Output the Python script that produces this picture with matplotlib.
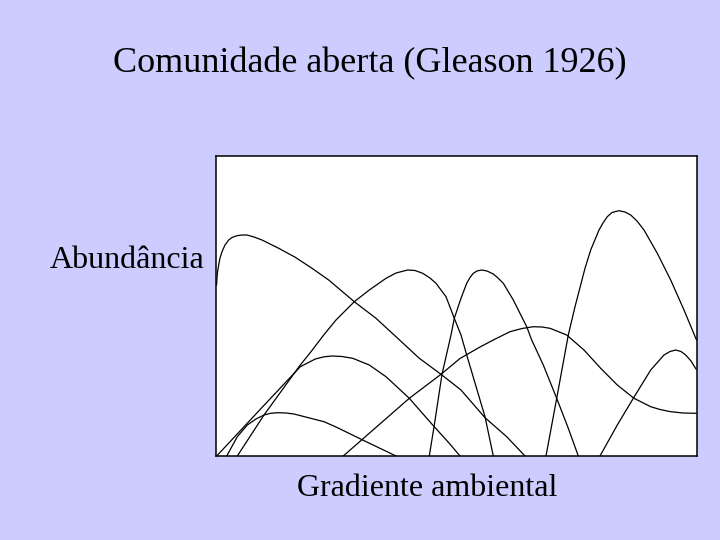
import matplotlib
matplotlib.use("Agg")
import matplotlib.pyplot as plt

# Species abundance curves along an environmental gradient (arbitrary units)
sp_a_x = [0.5, 1.5, 2.7, 4, 6, 9, 12.7, 16, 21, 26, 31, 38, 46, 62.7, 79.3, 96, 112.7, 138.3, 160, 181.7, 203.3, 225, 245, 269, 290.7, 309]
sp_a_y = [171, 184, 191, 198, 204.3, 211, 216, 218.5, 220.3, 221, 221, 219, 216, 207.7, 198.7, 187.7, 176, 154.3, 137.7, 117.7, 97.7, 81.7, 66, 38.3, 19.3, 0]

sp_b_x = [21.3, 48, 83, 96.3, 107.7, 120, 138.3, 153.3, 170, 180, 191.7, 199, 206.7, 214, 220, 230, 238.3, 245, 250.7, 269, 277.3]
sp_b_y = [0, 41, 89.3, 106, 121, 136, 154.3, 166, 177.7, 183, 186, 185.5, 182.7, 178, 172.7, 159.3, 137.7, 121, 101, 39.3, 0]

sp_c_x = [0.7, 42.7, 84.3, 99.3, 108, 116, 126, 136.7, 153.3, 170, 193.3, 216.7, 233.3, 244]
sp_c_y = [0, 45, 89.3, 97, 99.2, 100, 99.5, 97.7, 91, 79.3, 57.7, 31, 12.7, 0]

sp_e_x = [10.7, 21.3, 31.3, 40, 48, 54, 61.3, 70, 78, 94.7, 108, 120, 146.7, 180]
sp_e_y = [0, 19.3, 31, 37, 41, 42.6, 43.3, 43, 42, 37.7, 34.3, 29, 16, 0]

sp_f_x = [127.3, 146.7, 193.3, 225, 244, 264, 277.3, 294, 306, 317.3, 326, 334, 350.7, 368, 384.7, 401.3, 418, 434.7, 444, 454.7, 467, 480]
sp_f_y = [0, 17, 57.7, 81.7, 97.5, 109, 116, 124.3, 127.5, 129.3, 129, 127.7, 121, 106, 87.7, 71, 57.7, 49.3, 46.5, 44.3, 43, 42.7]

sp_g_x = [213.3, 218.3, 226, 235, 238.3, 245, 250.7, 254, 257.3, 261, 265.7, 271, 277.3, 282, 287.3, 297.3, 310.7, 315.7, 327.3, 340.7, 352.3, 362.3]
sp_g_y = [0, 31, 81.7, 121, 137.7, 157.7, 172.7, 178.5, 182.7, 185, 186, 185, 182, 178, 172.7, 156, 129.3, 116, 91, 57.7, 27.7, 0]

sp_h_x = [330, 340.7, 352.3, 359, 369, 374.7, 383, 387, 391.3, 396, 403, 409, 414.7, 421, 428, 441.3, 454.7, 468, 480.5]
sp_h_y = [0, 57.7, 121, 149.3, 187.7, 206, 226, 233, 239.3, 243.5, 245.3, 244, 241, 235, 226, 202.7, 176, 146, 116]

sp_i_x = [384, 401.3, 417.3, 434.7, 448, 454, 459.7, 465, 469.7, 475, 480]
sp_i_y = [0, 31, 57.7, 86, 101, 104.5, 106, 104.5, 101, 95, 87]

series = [(sp_a_x, sp_a_y), (sp_b_x, sp_b_y), (sp_c_x, sp_c_y), (sp_e_x, sp_e_y),
          (sp_f_x, sp_f_y), (sp_g_x, sp_g_y), (sp_h_x, sp_h_y), (sp_i_x, sp_i_y)]

title = "Comunidade aberta (Gleason 1926)"
ylabel = "Abundância"
xlabel = "Gradiente ambiental"

W, H = 720, 540
bg = "#CCCCFF"
fig = plt.figure(figsize=(W / 100, H / 100), dpi=100, facecolor=bg)
ax = fig.add_axes([216 / W, 1 - 456 / H, (697 - 216) / W, (456 - 156) / H])
ax.set_facecolor("white")
for xs, ys in series:
    ax.plot(xs, ys, color="black", linewidth=0.9, solid_joinstyle="round")
ax.set_xlim(0, 481)
ax.set_ylim(0, 300)
ax.set_xticks([])
ax.set_yticks([])
for s in ax.spines.values():
    s.set_color("black")
    s.set_linewidth(1.1)

serif = ["Liberation Serif", "DejaVu Serif"]
fig.text(370 / W, 1 - 72 / H, title, family=serif, fontsize=26, ha="center", va="baseline")
fig.text(50 / W, 1 - 268 / H, ylabel, family=serif, fontsize=23, ha="left", va="baseline")
fig.text(297 / W, 1 - 496 / H, xlabel, family=serif, fontsize=23, ha="left", va="baseline")

fig.savefig("out.png", dpi=100, facecolor=bg)
